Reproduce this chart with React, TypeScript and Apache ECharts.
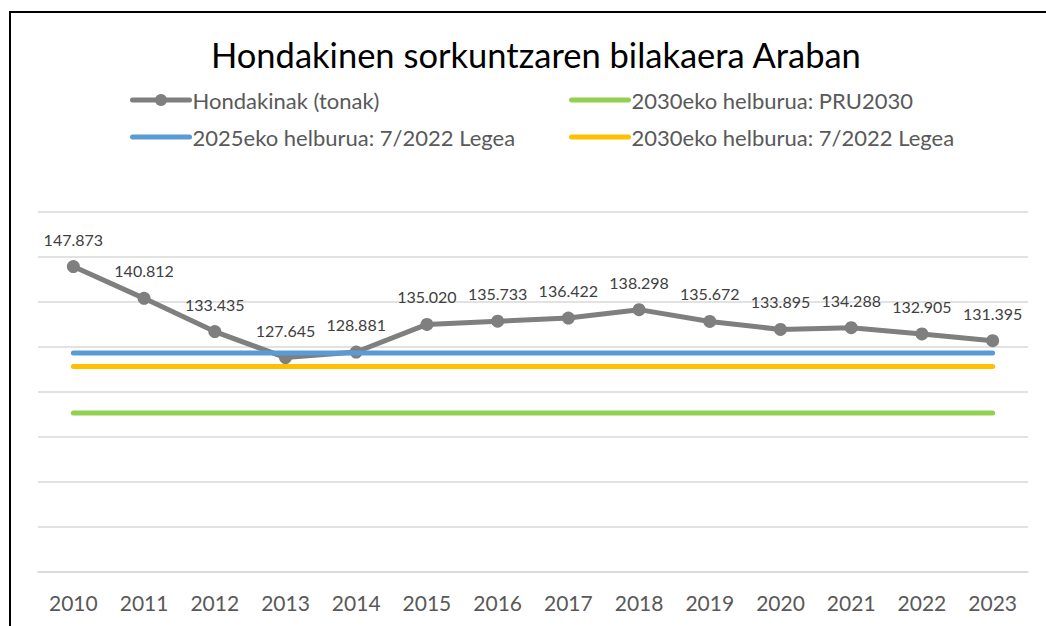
import React, { useEffect, useRef } from "react";
import * as echarts from "echarts";

const years = ["2010", "2011", "2012", "2013", "2014", "2015", "2016", "2017", "2018", "2019", "2020", "2021", "2022", "2023"];
const waste = [147873, 140812, 133435, 127645, 128881, 135020, 135733, 136422, 138298, 135672, 133895, 134288, 132905, 131395];
const target2025Law = 128650;
const target2030Law = 125692;
const target2030PRU = 115341;

const titleText = "Hondakinen sorkuntzaren bilakaera Araban";
const nameWaste = "Hondakinak (tonak)";
const namePRU = "2030eko helburua: PRU2030";
const name2025 = "2025eko helburua: 7/2022 Legea";
const name2030 = "2030eko helburua: 7/2022 Legea";

const FONT = "Lato";

function fmt(v: number): string {
  return String(v).replace(/\B(?=(\d{3})+(?!\d))/g, ".");
}

export default function App() {
  const ref = useRef<HTMLDivElement>(null);
  useEffect(() => {
    if (!ref.current) return;
    const chart = echarts.init(ref.current, null, { renderer: "svg" });
    const flat = (v: number) => years.map(() => v);
    const targetSeries = (name: string, v: number, color: string) => ({
      name,
      type: "line",
      data: flat(v),
      symbol: "none",
      lineStyle: { color, width: 5, cap: "round" },
      itemStyle: { color },
      z: 3,
    });
    const hidden = { opacity: 0 };
    const legendBase = {
      top: 89,
      orient: "vertical",
      padding: 0,
      itemWidth: 57,
      itemHeight: 15,
      itemGap: 15,
      lineStyle: { width: 5, cap: "round" },
      textStyle: { fontFamily: FONT, fontSize: 22, color: "#595959", padding: [0, 0, 0, -2] },
    };
    chart.setOption({
      animation: false,
      backgroundColor: "#ffffff",
      textStyle: { fontFamily: FONT },
      title: {
        text: titleText,
        left: 206,
        top: 32,
        textStyle: { fontFamily: FONT, fontSize: 34.5, fontWeight: "normal", color: "#000000" },
      },
      legend: [
        {
          ...legendBase,
          left: 130,
          data: [{ name: nameWaste }, { name: name2025, itemStyle: hidden }],
        },
        {
          ...legendBase,
          left: 569,
          data: [{ name: namePRU, itemStyle: hidden }, { name: name2030, itemStyle: hidden }],
        },
      ],
      graphic: [
        {
          type: "rect",
          shape: { x: 10, y: 12, width: 1200, height: 800 },
          style: { fill: "none", stroke: "#000000", lineWidth: 2 },
          silent: true,
          z: 100,
        },
      ],
      grid: { left: 38, right: 18, top: 212, bottom: 54 },
      xAxis: {
        type: "category",
        data: years,
        boundaryGap: true,
        axisLine: { show: true, lineStyle: { color: "#d9d9d9", width: 1.5 } },
        axisTick: { show: false },
        axisLabel: { color: "#595959", fontFamily: FONT, fontSize: 21, margin: 20 },
      },
      yAxis: {
        type: "value",
        min: 80000,
        max: 160000,
        interval: 10000,
        axisLabel: { show: false },
        axisLine: { show: false },
        axisTick: { show: false },
        splitLine: { lineStyle: { color: "#d9d9d9", width: 1.5 } },
      },
      series: [
        {
          name: nameWaste,
          type: "line",
          data: waste,
          symbol: "circle",
          symbolSize: 13,
          lineStyle: { color: "#7f7f7f", width: 5 },
          itemStyle: { color: "#7f7f7f" },
          z: 2,
          label: {
            show: true,
            position: "top",
            distance: 13,
            color: "#404040",
            fontFamily: FONT,
            fontSize: 16,
            formatter: (p: any) => fmt(p.value),
          },
        },
        targetSeries(namePRU, target2030PRU, "#92d050"),
        targetSeries(name2025, target2025Law, "#5b9bd5"),
        targetSeries(name2030, target2030Law, "#ffc000"),
      ],
    });
    return () => chart.dispose();
  }, []);
  return <div ref={ref} style={{ position: "fixed", left: 0, top: 0, width: 1046, height: 626 }} />;
}
